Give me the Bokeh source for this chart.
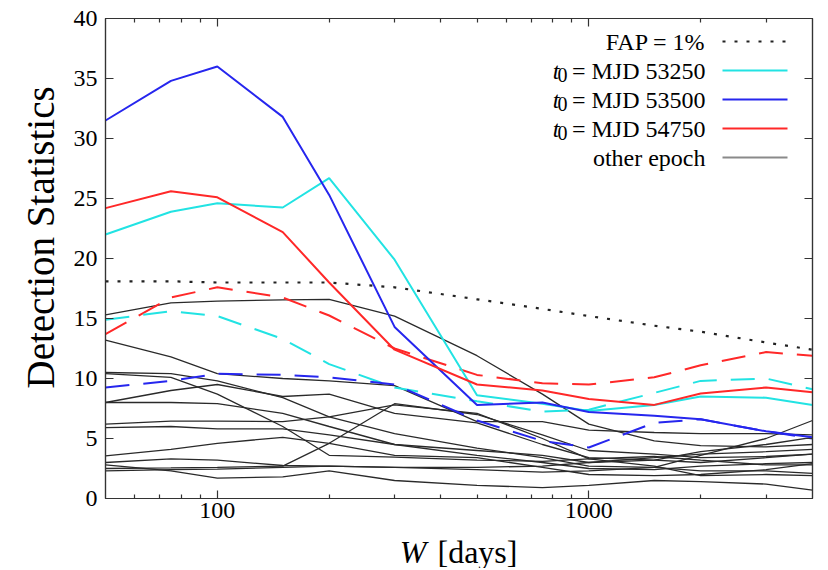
import math
from bokeh.plotting import figure
from bokeh.layouts import column
from bokeh.models import (Range1d, FixedTicker, LogAxis, LinearAxis, Label, Arrow,
                          PrintfTickFormatter, Title)
from bokeh.embed import file_html
from bokeh.resources import INLINE

# ---------------- data ----------------
W_days = [50, 75, 100, 150, 200, 300, 500, 750, 1000, 1500, 2000, 3000, 4000]
fap_1pct = [18.1, 18.1, 18.0, 18.0, 18.0, 17.6, 16.6, 15.8, 15.2, 14.4, 13.9, 13.0, 12.4]

t0_53250 = [22.0, 23.9, 24.6, 24.25, 26.7, 19.9, 8.6, 7.9, 7.3, 7.8, 8.5, 8.4, 7.8]
t0_53500 = [31.5, 34.8, 36.0, 31.8, 25.3, 14.3, 7.8, 8.0, 7.2, 6.9, 6.6, 5.6, 5.1]
t0_54750 = [24.2, 25.6, 25.1, 22.2, 18.0, 12.4, 9.5, 9.0, 8.3, 7.8, 8.75, 9.25, 8.85]

t0_53250_dashed = [14.9, 15.6, 15.2, 13.3, 11.2, 9.25, 8.1, 7.25, 7.4, 8.8, 9.8, 10.0, 9.1]
t0_53500_dashed = [9.25, 9.8, 10.4, 10.3, 10.1, 9.5, 6.5, 4.8, 4.25, 6.3, 6.6, 5.6, 5.0]
t0_54750_dashed = [13.7, 16.75, 17.6, 16.75, 15.25, 12.5, 10.3, 9.6, 9.5, 10.1, 11.1, 12.2, 11.9]

other_01 = [15.3, 16.3, 16.45, 16.55, 16.6, 15.2, 11.9, 8.7, 6.2, 4.8, 4.4, 4.3, 4.5]
other_02 = [13.2, 11.8, 10.4, 10.0, 9.8, 9.4, 6.4, 6.4, 5.7, 5.5, 5.4, 5.4, 5.3]
other_03 = [10.5, 10.4, 9.8, 8.4, 6.8, 5.4, 4.2, 3.4, 2.7, 2.6, 2.3, 2.3, 2.1]
other_04 = [10.4, 10.1, 8.7, 6.0, 3.6, 3.45, 3.2, 3.1, 3.3, 3.5, 3.2, 2.8, 2.8]
other_05 = [8.0, 9.0, 9.5, 8.5, 8.7, 7.1, 6.3, 4.5, 3.4, 3.2, 3.0, 3.4, 3.7]
other_06 = [8.0, 8.0, 7.9, 7.1, 6.0, 4.5, 3.6, 3.0, 2.5, 2.4, 2.7, 2.9, 3.0]
other_07 = [6.2, 6.45, 6.45, 6.4, 6.8, 7.8, 7.1, 5.0, 3.3, 2.7, 1.9, 2.0, 1.9]
other_08 = [5.9, 6.0, 5.8, 5.8, 5.3, 4.5, 4.0, 3.6, 3.0, 3.2, 3.9, 4.5, 5.1]
other_09 = [3.55, 4.1, 4.6, 5.1, 4.6, 3.6, 3.4, 2.6, 2.0, 1.9, 2.0, 2.4, 2.9]
other_10 = [3.0, 3.3, 3.2, 2.75, 2.7, 2.6, 2.4, 2.2, 2.3, 2.6, 3.6, 5.0, 6.5]
other_11 = [2.8, 2.3, 1.7, 1.8, 2.3, 1.5, 1.1, 0.9, 1.1, 1.5, 1.4, 1.2, 0.7]
other_12 = [2.5, 2.55, 2.6, 2.7, 4.6, 7.9, 7.0, 5.3, 4.0, 3.7, 3.4, 3.5, 3.7]
other_13 = [2.3, 2.4, 2.45, 2.6, 2.7, 2.6, 2.6, 2.7, 3.0, 3.4, 3.7, 3.9, 4.1]

x_major_ticks = [100, 1000]
x_minor_ticks = [60, 70, 80, 90, 200, 300, 400, 500, 600, 700, 800, 900, 2000, 3000]
y_ticks = [0, 5, 10, 15, 20, 25, 30, 35, 40]

legend_labels = ["FAP = 1%", "= MJD 53250", "= MJD 53500", "= MJD 54750", "other epoch"]
y_title = "Detection Statistics"
x_title_var = "W"
x_title_unit = "[days]"

# ---------------- style ----------------
FONT = "Liberation Serif"
CYAN = "#22E3E3"
BLUE = "#2626EE"
RED = "#FF2828"
BLACK = "#2a2a2a"

TOTAL_W = 826
MAIN_H = 532
XLAB_H = 36

X0, X1 = 50, 4000
Y0, Y1 = 0, 40
# frame in picture pixels (for placing the legend annotations)
FL, FR, FT, FB = 105, 812, 18, 498
TEXT_SHIFT = 7  # label anchor correction (px) for 24px text


def px_to_x(px):
    return 10 ** (math.log10(X0) + (px - FL) / (FR - FL) * (math.log10(X1) - math.log10(X0)))


def py_to_y(py):
    return Y1 - (py - FT) / (FB - FT) * (Y1 - Y0)


p = figure(width=TOTAL_W, height=MAIN_H, x_axis_type="log",
           x_range=Range1d(X0, X1), y_range=Range1d(Y0, Y1),
           output_backend="svg", toolbar_location=None,
           min_border_left=FL, min_border_right=TOTAL_W - FR, min_border_top=FT,
           min_border_bottom=MAIN_H - FB)
p.xgrid.visible = False
p.ygrid.visible = False
p.outline_line_color = "#333333"
p.outline_line_width = 1.2
p.background_fill_color = "white"
p.border_fill_color = "white"

xticker = FixedTicker(ticks=x_major_ticks, minor_ticks=x_minor_ticks)
yticker = FixedTicker(ticks=y_ticks)


def style_axis(ax, labels=True, minor=True):
    ax.axis_line_color = "#333333"
    ax.axis_line_width = 1.2
    ax.major_tick_in = 8
    ax.major_tick_out = 0
    ax.major_tick_line_color = "#333333"
    ax.major_tick_line_width = 1.2
    if minor:
        ax.minor_tick_in = 4
        ax.minor_tick_out = 0
        ax.minor_tick_line_color = "#333333"
        ax.minor_tick_line_width = 1.2
    else:
        ax.minor_tick_line_color = None
    ax.major_label_text_font = FONT
    if labels:
        ax.major_label_text_font_size = "24px"
        ax.major_label_text_color = "black"
    else:
        ax.major_label_text_font_size = "2px"
        ax.major_label_text_color = None
        ax.major_label_standoff = 0


xa = p.xaxis[0]
xa.ticker = xticker
xa.formatter = PrintfTickFormatter(format="%d")
style_axis(xa)
xa.major_label_standoff = 4

ya = p.yaxis[0]
ya.ticker = yticker
style_axis(ya, minor=False)
ya.major_label_standoff = 8

top = LogAxis(ticker=xticker, formatter=PrintfTickFormatter(format="%d"))
style_axis(top, labels=False)
p.add_layout(top, "above")

right = LinearAxis(ticker=yticker)
style_axis(right, labels=False, minor=False)
p.add_layout(right, "right")

# y axis title (placed beside the y axis, shifted up like the reference)
p.add_layout(Title(text=y_title, align="left", offset=110, text_font=FONT,
                   text_font_size="39px", text_font_style="normal", text_color="black",
                   standoff=17), "left")

# ---------------- lines ----------------
others = [other_01, other_02, other_03, other_04, other_05, other_06, other_07,
          other_08, other_09, other_10, other_11, other_12, other_13]
for o in others:
    p.line(W_days, o, line_color=BLACK, line_width=1.3)

dash = "24 14"
p.line(W_days, t0_54750_dashed, line_color=RED, line_width=2, line_dash=dash)
p.line(W_days, t0_53250_dashed, line_color=CYAN, line_width=2, line_dash=dash)
p.line(W_days, t0_53500_dashed, line_color=BLUE, line_width=2, line_dash=dash)

p.line(W_days, t0_53250, line_color=CYAN, line_width=2)
p.line(W_days, t0_53500, line_color=BLUE, line_width=2)
p.line(W_days, t0_54750, line_color=RED, line_width=2)

p.line(W_days, fap_1pct, line_color="#222222", line_width=2.2, line_dash="3 9")

# ---------------- legend (label left, sample right) ----------------
leg_colors = ["#222222", CYAN, BLUE, RED, "#8a8a8a"]
leg_dashes = ["3 9", "solid", "solid", "solid", "solid"]
text_right = px_to_x(705)
line_x0, line_x1 = px_to_x(722), px_to_x(787)
for i, lab in enumerate(legend_labels):
    base_py = 48 + 29 * i
    by = py_to_y(base_py - TEXT_SHIFT)
    p.add_layout(Label(x=text_right, y=by, text=lab, text_font=FONT, text_font_size="24px",
                       text_align="right", text_baseline="alphabetic", text_color="black"))
    if lab.startswith("="):
        p.add_layout(Label(x=px_to_x(559), y=by, text="t", text_font=FONT, text_font_size="24px",
                           text_font_style="italic", text_align="right", text_baseline="alphabetic",
                           text_color="black"))
        p.add_layout(Label(x=px_to_x(567), y=py_to_y(base_py + 4 - TEXT_SHIFT), text="0",
                           text_font=FONT, text_font_size="20px", text_align="right",
                           text_baseline="alphabetic", text_color="black"))
    ly = py_to_y(base_py - 7)
    p.add_layout(Arrow(end=None, x_start=line_x0, y_start=ly, x_end=line_x1, y_end=ly,
                       line_color=leg_colors[i], line_width=2, line_dash=leg_dashes[i]))

# ---------------- x axis title strip (italic W + [days]) ----------------
# the column layout aligns this strip's frame with the main frame (FL..FR),
# so its x range is expressed in picture pixels over that span
q = figure(width=TOTAL_W, height=XLAB_H, x_range=Range1d(FL, FR), y_range=Range1d(0, XLAB_H),
           output_backend="svg", toolbar_location=None, min_border=0, title=None,
           x_axis_location=None, y_axis_location=None)
q.xgrid.visible = False
q.ygrid.visible = False
q.outline_line_color = None
q.background_fill_color = "white"
q.border_fill_color = "white"
q.add_layout(Label(x=426, y=17, text=x_title_var, text_font=FONT, text_font_size="32px",
                   text_font_style="italic", text_align="right", text_baseline="alphabetic",
                   text_color="black"))
q.add_layout(Label(x=437, y=17, text=x_title_unit, text_font=FONT, text_font_size="32px",
                   text_align="left", text_baseline="alphabetic", text_color="black"))

layout = column(p, q, spacing=0)
open("out.html", "w").write(file_html(layout, INLINE))
